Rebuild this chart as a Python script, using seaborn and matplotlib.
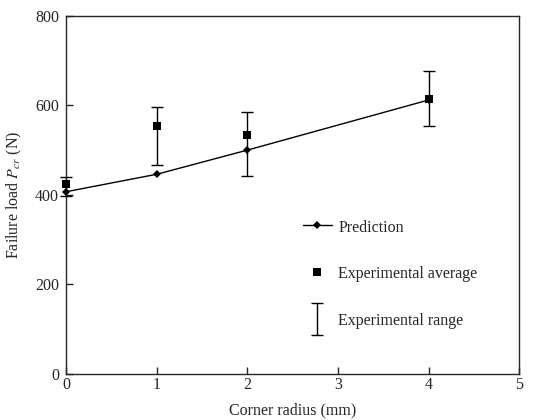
import matplotlib
matplotlib.use("Agg")
import matplotlib.pyplot as plt
from matplotlib.lines import Line2D
from matplotlib.legend_handler import HandlerErrorbar
import seaborn as sns
import pandas as pd
import numpy as np

# Data
radius = [0, 1, 2, 4]
prediction = [407, 446, 500, 612]
exp_average = [424, 554, 533, 613]
exp_low = [397, 467, 443, 554]
exp_high = [441, 596, 584, 676]
x_ticks = [0, 1, 2, 3, 4, 5]
y_ticks = [0, 200, 400, 600, 800]

sns.set_style("ticks")
plt.rcParams["font.family"] = ["Liberation Serif", "DejaVu Serif"]
plt.rcParams["mathtext.fontset"] = "stix"
FS = 11.5
plt.rcParams["font.size"] = FS

df = pd.DataFrame({"radius": radius, "prediction": prediction,
                   "avg": exp_average, "low": exp_low, "high": exp_high})

fig = plt.figure(figsize=(5.5, 4.2), dpi=100)
ax = fig.add_axes([0.12, 0.1095, 0.8245, 0.853])

# Experimental range (error bars)
yerr = np.array([df["avg"] - df["low"], df["high"] - df["avg"]])
eb = ax.errorbar(df["radius"], df["avg"], yerr=yerr, fmt="none",
                 ecolor="black", elinewidth=1.0, capsize=4.5, capthick=1.0, zorder=2)
for ln in eb.lines[1]:
    ln.set_clip_on(False)
for lc in eb.lines[2]:
    lc.set_clip_on(False)

# Prediction line
sns.lineplot(data=df, x="radius", y="prediction", ax=ax, color="black",
             linewidth=1.0, marker="D", markersize=4.5, markeredgewidth=0,
             zorder=3, clip_on=False)

# Experimental average
sns.scatterplot(data=df, x="radius", y="avg", ax=ax, color="black",
                marker="s", s=36, linewidth=0, zorder=4, clip_on=False)

ax.set_xlim(0, 5)
ax.set_ylim(0, 800)
ax.set_xticks(x_ticks)
ax.set_yticks(y_ticks)
ax.tick_params(direction="in", length=5, width=1.0, top=False, right=False,
               labelsize=FS)
ax.tick_params(axis="x", pad=2)
ax.tick_params(axis="y", pad=5)
for s in ax.spines.values():
    s.set_linewidth(1.0)
    s.set_visible(True)

ax.set_xlabel("Corner radius (mm)", fontsize=FS, labelpad=7)
ax.set_ylabel("Failure load $P_{cr}$ (N)", fontsize=FS, labelpad=8)

h_pred = Line2D([], [], color="black", linewidth=1.0, marker="D",
                markersize=4.5, markeredgewidth=0)
h_avg = Line2D([], [], color="black", linestyle="none", marker="s",
               markersize=6, markeredgewidth=0)
ax.legend([h_pred, h_avg, eb],
          ["Prediction", "Experimental average", "Experimental range"],
          handler_map={type(eb): HandlerErrorbar(xerr_size=0.4, yerr_size=1.0)},
          frameon=False, loc="center left", bbox_to_anchor=(0.5226, 0.279),
          borderpad=0, borderaxespad=0, handlelength=1.8, handletextpad=0.4,
          handleheight=1.0, labelspacing=1.875, fontsize=FS)

fig.savefig("out.png", dpi=100)
